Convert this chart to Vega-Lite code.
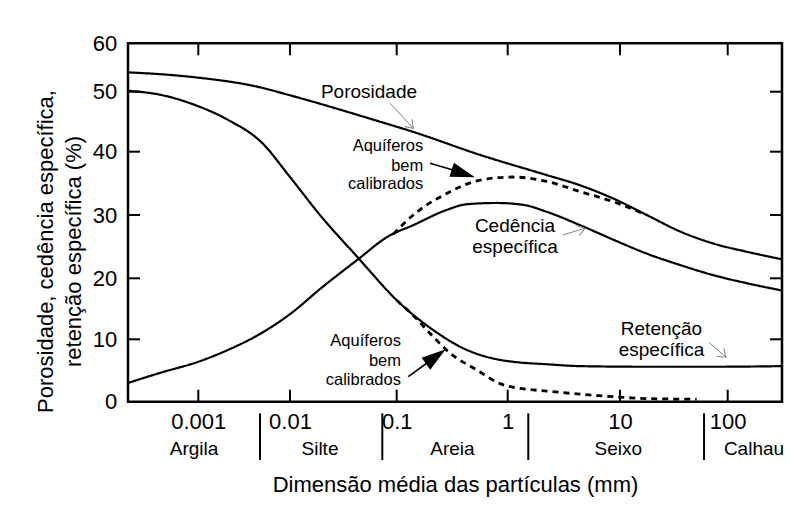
{
  "$schema": "https://vega.github.io/schema/vega-lite/v6.json",
  "width": 654,
  "height": 358.4,
  "autosize": {"type": "none"},
  "padding": {"left": 128, "top": 43.3, "right": 18, "bottom": 106.3},
  "background": "white",
  "config": {
    "view": {"stroke": "black", "strokeWidth": 2.5},
    "font": "Liberation Sans",
    "axis": {"labelFont": "Liberation Sans", "titleFont": "Liberation Sans", "labelColor": "black", "titleColor": "black", "ticks": false, "tickSize": 0, "domain": false, "grid": false}
  },
  "datasets": {
    "curves": [
      {"s": "P", "t": "solid", "x": 0.00017, "y": 54.0},
      {"s": "P", "t": "solid", "x": 0.000394, "y": 53.6},
      {"s": "P", "t": "solid", "x": 0.001, "y": 52.9},
      {"s": "P", "t": "solid", "x": 0.00448, "y": 51.0},
      {"s": "P", "t": "solid", "x": 0.01, "y": 49.4},
      {"s": "P", "t": "solid", "x": 0.0698, "y": 45.0},
      {"s": "P", "t": "solid", "x": 0.141, "y": 43.3},
      {"s": "P", "t": "solid", "x": 0.562, "y": 39.5},
      {"s": "P", "t": "solid", "x": 2.23, "y": 36.3},
      {"s": "P", "t": "solid", "x": 4.4, "y": 34.7},
      {"s": "P", "t": "solid", "x": 8.72, "y": 32.6},
      {"s": "P", "t": "solid", "x": 17.7, "y": 30.0},
      {"s": "P", "t": "solid", "x": 36.1, "y": 27.4},
      {"s": "P", "t": "solid", "x": 73.5, "y": 25.5},
      {"s": "P", "t": "solid", "x": 150, "y": 24.2},
      {"s": "P", "t": "solid", "x": 320, "y": 23.0},
      {"s": "C", "t": "solid", "x": 0.00017, "y": 3.0},
      {"s": "C", "t": "solid", "x": 0.000394, "y": 4.68},
      {"s": "C", "t": "solid", "x": 0.001, "y": 6.4},
      {"s": "C", "t": "solid", "x": 0.00211, "y": 8.3},
      {"s": "C", "t": "solid", "x": 0.00486, "y": 11.0},
      {"s": "C", "t": "solid", "x": 0.0103, "y": 14.3},
      {"s": "C", "t": "solid", "x": 0.0196, "y": 18.4},
      {"s": "C", "t": "solid", "x": 0.0434, "y": 23.0},
      {"s": "C", "t": "solid", "x": 0.0828, "y": 26.6},
      {"s": "C", "t": "solid", "x": 0.141, "y": 28.4},
      {"s": "C", "t": "solid", "x": 0.282, "y": 30.8},
      {"s": "C", "t": "solid", "x": 0.428, "y": 31.7},
      {"s": "C", "t": "solid", "x": 0.796, "y": 31.9},
      {"s": "C", "t": "solid", "x": 1.38, "y": 31.6},
      {"s": "C", "t": "solid", "x": 2.23, "y": 30.5},
      {"s": "C", "t": "solid", "x": 4.4, "y": 28.4},
      {"s": "C", "t": "solid", "x": 8.72, "y": 26.1},
      {"s": "C", "t": "solid", "x": 17.7, "y": 23.9},
      {"s": "C", "t": "solid", "x": 36.1, "y": 22.1},
      {"s": "C", "t": "solid", "x": 73.5, "y": 20.5},
      {"s": "C", "t": "solid", "x": 150, "y": 19.2},
      {"s": "C", "t": "solid", "x": 320, "y": 18.0},
      {"s": "R", "t": "solid", "x": 0.00017, "y": 50.2},
      {"s": "R", "t": "solid", "x": 0.000394, "y": 49.45},
      {"s": "R", "t": "solid", "x": 0.000914, "y": 47.8},
      {"s": "R", "t": "solid", "x": 0.00211, "y": 45.3},
      {"s": "R", "t": "solid", "x": 0.00486, "y": 41.6},
      {"s": "R", "t": "solid", "x": 0.01, "y": 36.0},
      {"s": "R", "t": "solid", "x": 0.0191, "y": 30.0},
      {"s": "R", "t": "solid", "x": 0.0437, "y": 23.2},
      {"s": "R", "t": "solid", "x": 0.107, "y": 15.9},
      {"s": "R", "t": "solid", "x": 0.214, "y": 11.5},
      {"s": "R", "t": "solid", "x": 0.428, "y": 8.3},
      {"s": "R", "t": "solid", "x": 0.563, "y": 7.5},
      {"s": "R", "t": "solid", "x": 0.853, "y": 6.7},
      {"s": "R", "t": "solid", "x": 1.114, "y": 6.4},
      {"s": "R", "t": "solid", "x": 2.23, "y": 6.0},
      {"s": "R", "t": "solid", "x": 4.4, "y": 5.7},
      {"s": "R", "t": "solid", "x": 17.7, "y": 5.6},
      {"s": "R", "t": "solid", "x": 73.5, "y": 5.6},
      {"s": "R", "t": "solid", "x": 320, "y": 5.7},
      {"s": "D1", "t": "dashed", "x": 0.093, "y": 27.0},
      {"s": "D1", "t": "dashed", "x": 0.141, "y": 30.0},
      {"s": "D1", "t": "dashed", "x": 0.282, "y": 33.4},
      {"s": "D1", "t": "dashed", "x": 0.562, "y": 35.5},
      {"s": "D1", "t": "dashed", "x": 1.11, "y": 36.0},
      {"s": "D1", "t": "dashed", "x": 2.23, "y": 35.3},
      {"s": "D1", "t": "dashed", "x": 4.4, "y": 33.7},
      {"s": "D1", "t": "dashed", "x": 8.72, "y": 32.1},
      {"s": "D1", "t": "dashed", "x": 17.7, "y": 30.0},
      {"s": "D2", "t": "dashed", "x": 0.1, "y": 16.4},
      {"s": "D2", "t": "dashed", "x": 0.141, "y": 13.9},
      {"s": "D2", "t": "dashed", "x": 0.214, "y": 10.4},
      {"s": "D2", "t": "dashed", "x": 0.302, "y": 7.8},
      {"s": "D2", "t": "dashed", "x": 0.526, "y": 5.1},
      {"s": "D2", "t": "dashed", "x": 0.853, "y": 2.9},
      {"s": "D2", "t": "dashed", "x": 1.48, "y": 2.0},
      {"s": "D2", "t": "dashed", "x": 2.23, "y": 1.7},
      {"s": "D2", "t": "dashed", "x": 4.4, "y": 1.2},
      {"s": "D2", "t": "dashed", "x": 8.72, "y": 0.8},
      {"s": "D2", "t": "dashed", "x": 17.7, "y": 0.5},
      {"s": "D2", "t": "dashed", "x": 51.5, "y": 0.4}
    ],
    "labc": [
      {"x": 0.055, "y": 50.0, "text": "Porosidade"},
      {"x": 1.162, "y": 28.26, "text": "Cedência"},
      {"x": 1.162, "y": 24.99, "text": "específica"},
      {"x": 24.28, "y": 11.69, "text": "Retenção"},
      {"x": 24.28, "y": 8.29, "text": "específica"},
      {"x": 0.000897, "y": -7.63, "text": "Argila"},
      {"x": 0.0191, "y": -7.63, "text": "Silte"},
      {"x": 0.318, "y": -7.63, "text": "Areia"},
      {"x": 9.66, "y": -7.63, "text": "Seixo"},
      {"x": 175.7, "y": -7.63, "text": "Calhau"}
    ],
    "labr": [
      {"x": 0.1736, "y": 40.95, "text": "Aquíferos"},
      {"x": 0.1736, "y": 37.74, "text": "bem"},
      {"x": 0.1736, "y": 34.9, "text": "calibrados"},
      {"x": 0.1093, "y": 9.73, "text": "Aquíferos"},
      {"x": 0.1093, "y": 6.52, "text": "bem"},
      {"x": 0.1093, "y": 3.48, "text": "calibrados"}
    ],
    "shafts": [
      {"x": 0.0865, "y": 48.07, "x2": 0.1411, "y2": 43.9, "c": "#808080", "w": 1},
      {"x": 3.088, "y": 26.84, "x2": 4.88, "y2": 27.9, "c": "#808080", "w": 1},
      {"x": 67.47, "y": 9.46, "x2": 96.43, "y2": 7.12, "c": "#808080", "w": 1},
      {"x": 0.1995, "y": 38.17, "x2": 0.3215, "y2": 37.11, "c": "black", "w": 1.6},
      {"x": 0.1272, "y": 4.01, "x2": 0.1848, "y2": 6.12, "c": "black", "w": 1.6}
    ],
    "openheads": [
      {"x": 0.1411, "y": 43.9, "a": 47},
      {"x": 4.88, "y": 27.9, "a": -16.7},
      {"x": 96.43, "y": 7.12, "a": 41.2}
    ],
    "fillheads": [
      {"x": 0.5075, "y": 35.96, "a": 17.6},
      {"x": 0.2763, "y": 8.4, "a": -36.2}
    ],
    "seps": [
      {"x": 0.00471, "y": -1.86, "y2": -9.35},
      {"x": 0.0733, "y": -1.86, "y2": -9.35},
      {"x": 1.525, "y": -1.86, "y2": -9.35},
      {"x": 60.3, "y": -1.86, "y2": -9.35}
    ],
    "vticks": [
      {"x": 0.001, "y": 0, "y2": 1.92}, {"x": 0.01, "y": 0, "y2": 1.92}, {"x": 0.1, "y": 0, "y2": 1.92},
      {"x": 1, "y": 0, "y2": 1.92}, {"x": 10, "y": 0, "y2": 1.92}, {"x": 100, "y": 0, "y2": 1.92},
      {"x": 0.001, "y": 60, "y2": 57.52}, {"x": 0.01, "y": 60, "y2": 57.52}, {"x": 0.1, "y": 60, "y2": 57.52},
      {"x": 1, "y": 60, "y2": 57.52}, {"x": 10, "y": 60, "y2": 57.52}, {"x": 100, "y": 60, "y2": 57.52}
    ],
    "hticks": [
      {"y": 10, "x": 0.00017, "x2": 0.00023}, {"y": 20, "x": 0.00017, "x2": 0.00023}, {"y": 30, "x": 0.00017, "x2": 0.00023},
      {"y": 40, "x": 0.00017, "x2": 0.00023}, {"y": 50, "x": 0.00017, "x2": 0.00023},
      {"y": 10, "x": 320, "x2": 247.4}, {"y": 20, "x": 320, "x2": 247.4}, {"y": 30, "x": 320, "x2": 247.4},
      {"y": 40, "x": 320, "x2": 247.4}, {"y": 50, "x": 320, "x2": 247.4}
    ]
  },
  "layer": [
    {
      "data": {"name": "curves"},
      "mark": {"type": "line", "interpolate": "monotone", "color": "black"},
      "encoding": {
        "x": {
          "field": "x", "type": "quantitative",
          "scale": {"type": "log", "domain": [0.00017, 0.001, 0.01, 0.1, 1, 10, 100, 320], "range": [0, 70.3, 162, 268.7, 379.7, 492, 599.7, 654], "nice": false},
          "axis": {
            "orient": "bottom", "values": [0.001, 0.01, 0.1, 1, 10, 100], "labelExpr": "'' + datum.value",
            "labelPadding": 10, "labelFontSize": 22, "labelFlush": false, "labelOverlap": false,
            "title": "Dimensão média das partículas (mm)", "titleFontSize": 22, "titleFontWeight": "normal",
            "titleBaseline": "alphabetic", "titleY": 89.3
          }
        },
        "y": {
          "field": "y", "type": "quantitative",
          "scale": {"type": "linear", "domain": [0, 10, 20, 30, 40, 50, 60], "range": [358.4, 296, 235, 171.7, 108.4, 48.4, 0], "nice": false, "zero": false},
          "axis": {
            "orient": "left", "values": [0, 10, 20, 30, 40, 50, 60], "labelPadding": 11.3, "labelFontSize": 22,
            "labelFlush": false, "labelOverlap": false,
            "title": ["Porosidade, cedência específica,", "retenção específica (%)"], "titleFontSize": 22, "titleFontWeight": "normal",
            "titleAngle": 270, "titleAlign": "center", "titleBaseline": "alphabetic", "titleX": -76, "titleY": 207.7, "titleLineHeight": 28
          }
        },
        "detail": {"field": "s", "type": "nominal"},
        "strokeDash": {"field": "t", "type": "nominal", "scale": {"domain": ["solid", "dashed"], "range": [[1, 0], [6, 5]]}, "legend": null},
        "strokeWidth": {"field": "t", "type": "nominal", "scale": {"domain": ["solid", "dashed"], "range": [2.2, 2.8]}, "legend": null}
      }
    },
    {
      "data": {"name": "vticks"},
      "mark": {"type": "rule", "color": "black", "strokeWidth": 2},
      "encoding": {
        "x": {"field": "x", "type": "quantitative"},
        "y": {"field": "y", "type": "quantitative"},
        "y2": {"field": "y2"}
      }
    },
    {
      "data": {"name": "hticks"},
      "mark": {"type": "rule", "color": "black", "strokeWidth": 2},
      "encoding": {
        "x": {"field": "x", "type": "quantitative"},
        "x2": {"field": "x2"},
        "y": {"field": "y", "type": "quantitative"}
      }
    },
    {
      "data": {"name": "labc"},
      "mark": {"type": "text", "align": "center", "baseline": "middle", "fontSize": 19, "color": "black", "font": "Liberation Sans"},
      "encoding": {
        "x": {"field": "x", "type": "quantitative"},
        "y": {"field": "y", "type": "quantitative"},
        "text": {"field": "text", "type": "nominal"}
      }
    },
    {
      "data": {"name": "labr"},
      "mark": {"type": "text", "align": "right", "baseline": "middle", "fontSize": 16.5, "color": "black", "font": "Liberation Sans"},
      "encoding": {
        "x": {"field": "x", "type": "quantitative"},
        "y": {"field": "y", "type": "quantitative"},
        "text": {"field": "text", "type": "nominal"}
      }
    },
    {
      "data": {"name": "seps"},
      "mark": {"type": "rule", "color": "black", "strokeWidth": 2},
      "encoding": {
        "x": {"field": "x", "type": "quantitative"},
        "y": {"field": "y", "type": "quantitative"},
        "y2": {"field": "y2"}
      }
    },
    {
      "data": {"name": "shafts"},
      "mark": {"type": "rule"},
      "encoding": {
        "x": {"field": "x", "type": "quantitative"},
        "y": {"field": "y", "type": "quantitative"},
        "x2": {"field": "x2"},
        "y2": {"field": "y2"},
        "color": {"field": "c", "type": "nominal", "scale": null},
        "strokeWidth": {"field": "w", "type": "quantitative", "scale": null}
      }
    },
    {
      "data": {"name": "openheads"},
      "mark": {"type": "point", "shape": "M-1,-0.7L0,0L-1,0.7", "filled": false, "color": "#808080", "strokeWidth": 1, "size": 225, "opacity": 1},
      "encoding": {
        "x": {"field": "x", "type": "quantitative"},
        "y": {"field": "y", "type": "quantitative"},
        "angle": {"field": "a", "type": "quantitative", "scale": null}
      }
    },
    {
      "data": {"name": "fillheads"},
      "mark": {"type": "point", "shape": "M0,0L-2,-0.6L-2,0.6Z", "filled": true, "color": "black", "size": 600, "opacity": 1},
      "encoding": {
        "x": {"field": "x", "type": "quantitative"},
        "y": {"field": "y", "type": "quantitative"},
        "angle": {"field": "a", "type": "quantitative", "scale": null}
      }
    }
  ]
}
